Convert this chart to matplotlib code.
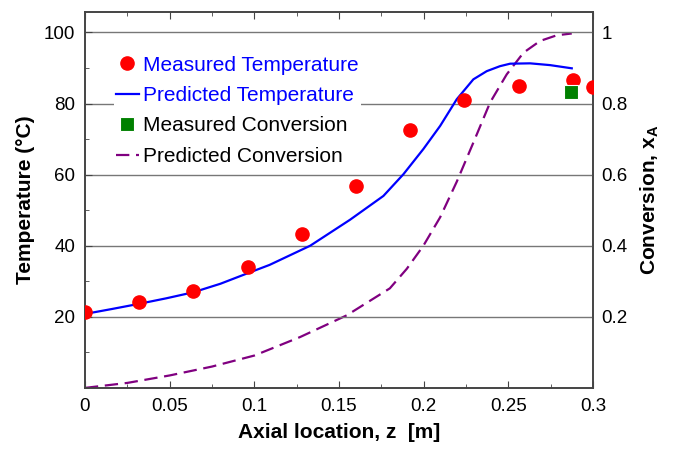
import numpy as np
import matplotlib
matplotlib.use("Agg")
from matplotlib import pyplot as plt
from matplotlib.ticker import MultipleLocator

plt.rcParams['font.family'] = ['Liberation Sans', 'DejaVu Sans']
plt.rcParams['mathtext.fontset'] = 'custom'
plt.rcParams['mathtext.rm'] = 'Liberation Sans'
plt.rcParams['mathtext.bf'] = 'Liberation Sans:bold'

# measured temperature along the reactor
z_meas = [0, 0.032, 0.064, 0.096, 0.128, 0.16, 0.192, 0.224, 0.256, 0.288, 0.30]
T_meas = [21.4, 24.2, 27.3, 34.1, 43.3, 56.9, 72.6, 81.1, 84.8, 86.5, 84.6]

# predicted temperature profile
z_pred_T = [0, 0.016, 0.0325, 0.048, 0.064, 0.08, 0.0974, 0.109, 0.133, 0.1565,
            0.1762, 0.188, 0.1998, 0.2097, 0.2195, 0.2293, 0.2372, 0.245,
            0.251, 0.2628, 0.2746, 0.2874]
T_pred = [20.8, 22.2, 23.7, 25.2, 26.9, 29.3, 32.5, 34.6, 40.0, 47.3,
          54.0, 60.1, 67.2, 73.7, 81.2, 86.8, 89.1, 90.5,
          91.2, 91.3, 90.8, 89.9]

# measured conversion at the outlet
z_meas_X = [0.287]
X_meas = [0.833]

# predicted conversion profile
z_pred_X = [0, 0.025, 0.05, 0.075, 0.1, 0.127, 0.1545, 0.18, 0.19, 0.1998,
            0.2097, 0.2195, 0.2293, 0.2392, 0.249, 0.2589, 0.2687, 0.2786, 0.2874]
X_pred = [0, 0.014, 0.035, 0.06, 0.091, 0.143, 0.204, 0.28, 0.335, 0.400,
          0.48, 0.58, 0.69, 0.803, 0.882, 0.943, 0.976, 0.992, 0.997]

fig = plt.figure(figsize=(6.74, 4.5), dpi=100)
ax = fig.add_axes([0.126, 0.138, 0.754, 0.835])
ax2 = ax.twinx()

ax.set_xlim(0, 0.3)
ax.set_ylim(0, 105.7)
ax2.set_ylim(0, 1.057)

for y in [20, 40, 60, 80, 100]:
    ax.axhline(y, color='#777777', lw=1.0, zorder=0)

l_meas_T, = ax.plot(z_meas, T_meas, 'o', color='red', ms=9.5, mec='red',
                    clip_on=True, zorder=4, label='Measured Temperature')
l_pred_T, = ax.plot(z_pred_T, T_pred, '-', color='blue', lw=1.6, zorder=3,
                    label='Predicted Temperature')
# conversion drawn on the temperature axes (x100) so the square sits on top
l_meas_X, = ax.plot(z_meas_X, [x * 100 for x in X_meas], 's', color='green',
                    ms=9.5, mec='white', mew=0.8, zorder=5,
                    label='Measured Conversion')
l_pred_X, = ax2.plot(z_pred_X, X_pred, '--', color='purple', lw=1.6,
                     dashes=(6, 3), zorder=3, label='Predicted Conversion')

ax.set_zorder(ax2.get_zorder() + 1)
ax.patch.set_visible(False)

ax.xaxis.set_minor_locator(MultipleLocator(0.025))
ax.yaxis.set_minor_locator(MultipleLocator(10))
ax.set_yticks([20, 40, 60, 80, 100])
ax.set_xticks([0, 0.05, 0.1, 0.15, 0.2, 0.25, 0.3])
ax.set_xticklabels(['0', '0.05', '0.1', '0.15', '0.2', '0.25', '0.3'])
ax.tick_params(axis='both', which='both', direction='in', top=True,
               labelsize=13.5, pad=7, color='#444444')
ax.tick_params(which='major', length=5)
ax.tick_params(which='minor', length=3)
ax2.set_yticks([0.2, 0.4, 0.6, 0.8, 1.0])
ax2.set_yticklabels(['0.2', '0.4', '0.6', '0.8', '1'])
ax2.tick_params(axis='y', length=0, labelsize=13.5, pad=6)

for a in (ax, ax2):
    for s in a.spines.values():
        s.set_color('#444444')
        s.set_linewidth(1.2)

ax.set_xlabel('Axial location, z  [m]', fontsize=15, fontweight='bold', labelpad=6)
ax.set_ylabel('Temperature (°C)', fontsize=15, fontweight='bold', labelpad=6)
ax2.set_ylabel(r'Conversion, x$_\mathbf{A}$', fontsize=15, fontweight='bold',
               labelpad=8, rotation=90)

leg = ax.legend(handles=[l_meas_T, l_pred_T, l_meas_X, l_pred_X],
                loc='upper left', bbox_to_anchor=(0.057, 0.89), frameon=True,
                fontsize=15, handlelength=1.1, handletextpad=0.2,
                labelspacing=0.55, borderpad=0.1, borderaxespad=0)
leg.get_frame().set_edgecolor('none')
leg.get_frame().set_facecolor('white')
leg.get_frame().set_alpha(1)
for txt, c in zip(leg.get_texts(), ['blue', 'blue', 'black', 'black']):
    txt.set_color(c)

fig.savefig('out.png', dpi=100)
